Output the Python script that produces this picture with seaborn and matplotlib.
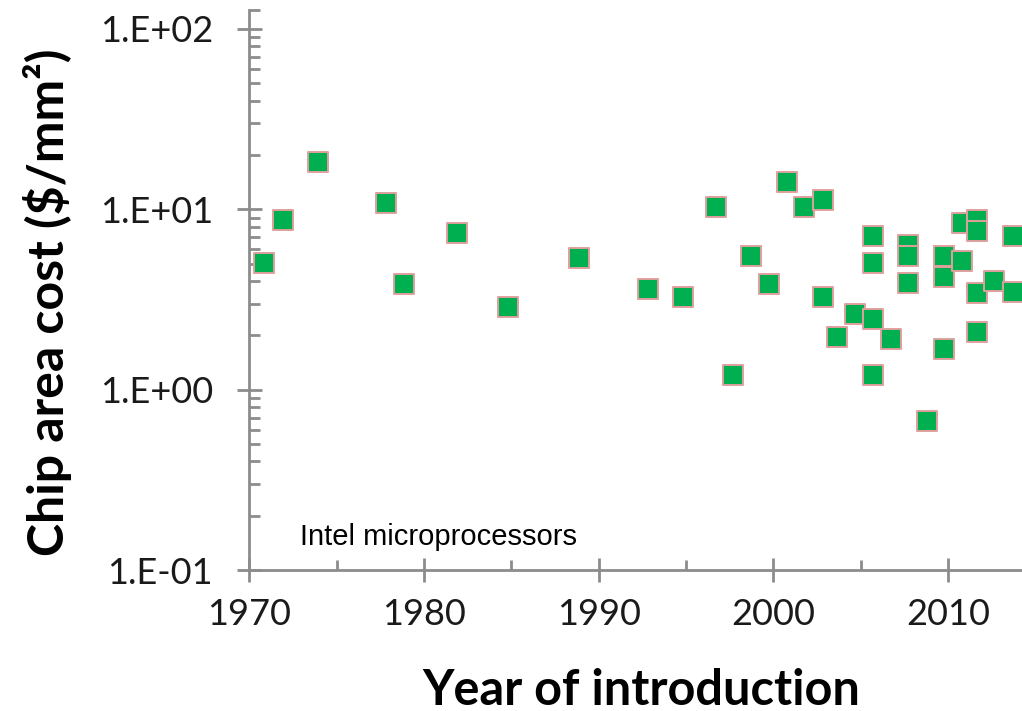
import numpy as np
import pandas as pd
import matplotlib
matplotlib.use("Agg")
import matplotlib.pyplot as plt
from matplotlib.ticker import FixedLocator, FuncFormatter, NullFormatter
import seaborn as sns

# Data (year of introduction, chip area cost $/mm^2)
years = [1970.86, 1971.91, 1973.92, 1977.82, 1978.87, 1981.91, 1984.83, 1988.89,
         1992.80, 1994.81, 1996.70, 1997.70, 1998.72, 1999.77, 2000.76, 2001.77,
         2002.82, 2002.82, 2003.66, 2004.67, 2005.72, 2005.72, 2005.72, 2005.72,
         2006.71, 2007.70, 2007.70, 2007.70, 2008.78, 2009.78, 2009.78, 2009.78,
         2010.80, 2010.80, 2011.64, 2011.64, 2011.64, 2011.64, 2012.64, 2013.70,
         2013.70]
costs = [5.02, 8.74, 18.3, 10.9, 3.86, 7.37, 2.89, 5.35,
         3.62, 3.28, 10.3, 1.21, 5.51, 3.86, 14.1, 10.3,
         11.3, 3.28, 1.95, 2.63, 7.15, 5.02, 2.46, 1.21,
         1.90, 6.30, 5.51, 3.89, 0.673, 5.51, 4.24, 1.67,
         8.44, 5.17, 8.70, 7.59, 3.42, 2.10, 4.01, 7.12,
         3.50]
x_ticks = [1970, 1980, 1990, 2000, 2010]
y_ticks = [0.1, 1, 10, 100]
annotation = "Intel microprocessors"
x_label = "Year of introduction"
y_label = "Chip area cost ($/mm²)"

df = pd.DataFrame({"year": years, "cost": costs})

sns.set_style("white")
plt.rcParams["font.family"] = ["Lato", "DejaVu Sans"]

fig = plt.figure(figsize=(10.22, 7.11), dpi=100)
ax = fig.add_axes([0.2439, 0.1983, 1.0 - 0.2439, 0.986 - 0.1983])

sns.scatterplot(data=df, x="year", y="cost", marker="s", s=190,
                color="#00B050", edgecolor="#E0A09E", linewidth=1.4,
                ax=ax, legend=False, zorder=3)

ax.set_yscale("log")
ymax = 10 ** (2 + 19 / 180.3)
ax.set_ylim(0.1, ymax)
ax.set_xlim(1970, 2014.23)

axis_col = "#8c8c8c"
for s in ["top", "right"]:
    ax.spines[s].set_visible(False)
for s in ["left", "bottom"]:
    ax.spines[s].set_color(axis_col)
    ax.spines[s].set_linewidth(2.0)

ax.yaxis.set_major_locator(FixedLocator(y_ticks))
minor_y = [m * 10.0 ** e for e in range(-1, 2) for m in range(2, 10)] + [ymax]
ax.yaxis.set_minor_locator(FixedLocator(minor_y))
ax.yaxis.set_major_formatter(FuncFormatter(lambda v, p: "1.E{:+03d}".format(int(round(np.log10(v))))))
ax.yaxis.set_minor_formatter(NullFormatter())

ax.xaxis.set_major_locator(FixedLocator(x_ticks))
ax.xaxis.set_minor_locator(FixedLocator([1975, 1985, 1995, 2005]))

ax.tick_params(axis="both", which="both", left=True, bottom=True)
ax.tick_params(axis="y", which="major", direction="inout", length=18, width=2,
               color=axis_col, labelsize=26, labelcolor="#1a1a1a", pad=17)
ax.tick_params(axis="y", which="minor", direction="in", length=8, width=2, color=axis_col)
ax.tick_params(axis="x", which="major", direction="inout", length=17, width=2,
               color=axis_col, labelsize=26, labelcolor="#1a1a1a", pad=12)
ax.tick_params(axis="x", which="minor", direction="in", length=7, width=2, color=axis_col)

ax.set_xlabel(x_label, fontsize=35, fontweight="bold", color="black")
ax.set_ylabel(y_label, fontsize=36, fontweight="bold", color="black")
ax.xaxis.set_label_coords(0.5076, -0.175)
ax.yaxis.set_label_coords(-0.2295, 0.4786)

ax.text(0.0656, 0.059, annotation, transform=ax.transAxes, fontsize=21,
        family=["Liberation Sans", "DejaVu Sans"], va="center", ha="left", color="black")

fig.savefig("out.png", dpi=100)
